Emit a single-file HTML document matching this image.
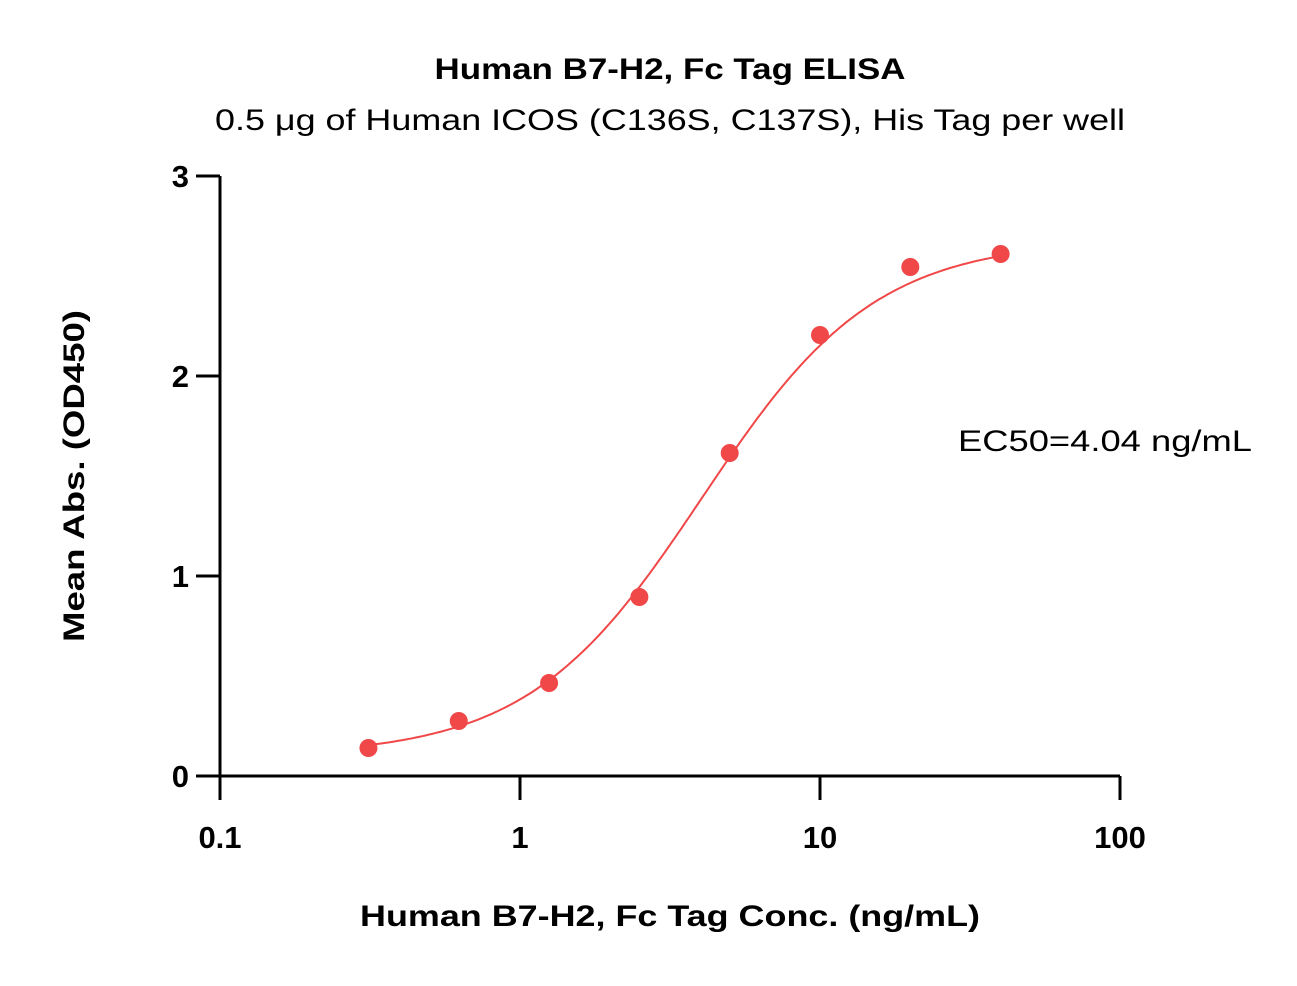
<!DOCTYPE html>
<html><head><meta charset="utf-8"><style>
body{margin:0;background:#fff;}
svg text{font-family:"Liberation Sans",sans-serif;fill:#000;}
</style></head><body>
<svg width="1297" height="981" viewBox="0 0 1297 981" id="chart">
<text x="670" y="79" text-anchor="middle" font-size="30" font-weight="bold" textLength="471" lengthAdjust="spacingAndGlyphs">Human B7-H2, Fc Tag ELISA</text>
<text x="670" y="130" text-anchor="middle" font-size="30" textLength="910" lengthAdjust="spacingAndGlyphs">0.5 μg of Human ICOS (C136S, C137S), His Tag per well</text>
<text x="670" y="926" text-anchor="middle" font-size="30" font-weight="bold" textLength="620" lengthAdjust="spacingAndGlyphs">Human B7-H2, Fc Tag Conc. (ng/mL)</text>
<text transform="translate(84,476) rotate(-90)" text-anchor="middle" font-size="30" font-weight="bold" textLength="332" lengthAdjust="spacingAndGlyphs">Mean Abs. (OD450)</text>
<text x="1105" y="451" text-anchor="middle" font-size="30" textLength="294" lengthAdjust="spacingAndGlyphs">EC50=4.04 ng/mL</text>
<g id="axes"></g>
<g id="marks"></g>
</svg>
<script>
const concentrations=[0.3125,0.625,1.25,2.5,5,10,20,40];
const absorbance=[0.14,0.275,0.465,0.895,1.615,2.205,2.545,2.61];
const xTicks=[0.1,1,10,100];
const xTickLabels=["0.1","1","10","100"];
const yTicks=[0,1,2,3];
const yTickLabels=["0","1","2","3"];
const fitBottom=0.1,fitTop=2.68,fitEC50=4.04,fitHill=1.5;
const NS="http://www.w3.org/2000/svg";
const X=v=>220+(Math.log10(v)+1)*300;
const Y=v=>776-v*200;
function mk(t,a,p){const e=document.createElementNS(NS,t);for(const k in a)e.setAttribute(k,a[k]);p.appendChild(e);return e;}
const ax=document.getElementById('axes'),mg=document.getElementById('marks');
let l=mk('line',{x1:220,y1:176,x2:220,y2:777.5,stroke:'#000','stroke-width':3},ax);


l=mk('line',{x1:218.5,y1:776,x2:1120,y2:776,stroke:'#000','stroke-width':3},ax);


yTicks.forEach((v,i)=>{
 const t=mk('line',{x1:196,y1:Y(v),x2:220,y2:Y(v),stroke:'#000','stroke-width':3},ax);
 
 
 const tx=mk('text',{x:189,y:Y(v)+11,'text-anchor':'end','font-size':31,'font-weight':'bold'},ax);
 tx.textContent=yTickLabels[i];
 
 
});
xTicks.forEach((v,i)=>{
 const t=mk('line',{x1:X(v),y1:776,x2:X(v),y2:800,stroke:'#000','stroke-width':3},ax);
 
 
 const tx=mk('text',{x:X(v),y:848,'text-anchor':'middle','font-size':31,'font-weight':'bold'},ax);
 tx.textContent=xTickLabels[i];
 
 
});
const f=c=>fitBottom+(fitTop-fitBottom)/(1+Math.pow(fitEC50/c,fitHill));
let d='';
const lo=Math.log10(concentrations[0]),hi=Math.log10(concentrations[concentrations.length-1]);
for(let i=0;i<=200;i++){const c=Math.pow(10,lo+(hi-lo)*i/200);d+=(i?'L':'M')+X(c).toFixed(1)+','+Y(f(c)).toFixed(1);}
const p=mk('path',{d:d,fill:'none',stroke:'#f04848','stroke-width':2},mg);


concentrations.forEach((c,i)=>{
 const pt=mk('circle',{cx:X(c),cy:Y(absorbance[i]),r:9,fill:'#f04848'},mg);
 
 
});
</script>
</body></html>
